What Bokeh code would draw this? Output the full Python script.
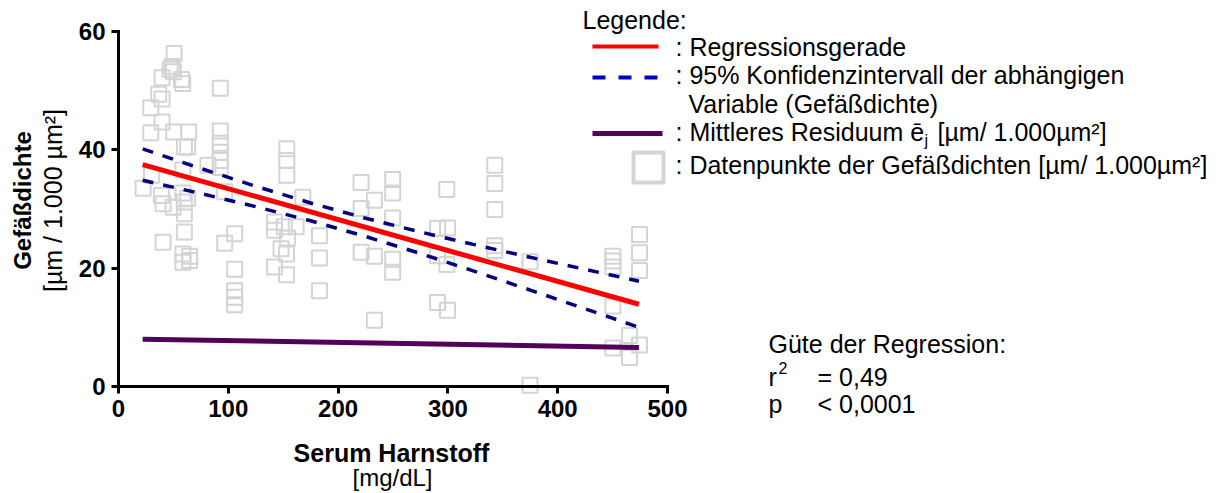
import math
from bokeh.plotting import figure
from bokeh.models import Range1d, FixedTicker
from bokeh.core.properties import value
from bokeh.embed import file_html
from bokeh.resources import INLINE

# ---------------- data ----------------
harnstoff = [50.6, 48.8, 47.0, 50.0, 39.7, 57.3, 58.5, 92.7, 36.6, 39.7, 29.4, 39.7, 29.4, 50.3,
             63.9, 92.7, 60.0, 63.0, 92.7, 92.7, 92.7, 92.7, 81.5, 58.7, 30.0, 22.4, 39.0, 58.7,
             40.6, 49.7, 60.0, 63.0, 60.0, 60.0, 40.6, 96.7, 105.8, 96.7, 58.7, 64.8, 58.7, 64.8,
             105.8, 105.8, 105.8, 105.8,
             153.3, 153.3, 153.3, 167.9, 220.9, 249.7, 249.7, 233.0, 220.9, 249.7, 142.0, 142.0,
             151.0, 161.8, 154.0, 148.0, 153.0, 183.0, 183.0, 142.0, 153.0, 183.0, 221.0, 233.0,
             249.7, 249.7, 233.0,
             342.7, 342.7, 342.7, 299.0, 290.6, 299.7, 342.7, 342.7, 290.6, 299.0, 290.6, 299.7,
             374.8, 374.8,
             474.5, 474.5, 474.5, 450.3, 450.3, 450.3, 450.3, 465.5, 474.5, 450.3, 465.5]
dichte = [56.3, 54.1, 53.6, 53.2, 52.2, 51.9, 51.2, 50.4, 49.4, 48.6, 47.1, 44.7, 42.9, 43.0,
          43.0, 43.2, 40.5, 40.5, 41.1, 39.6, 38.2, 37.0, 37.4, 36.6, 35.7, 33.5, 32.3, 32.7,
          30.9, 30.3, 31.2, 31.8, 29.2, 26.1, 24.4, 32.9, 25.8, 24.2, 22.4, 22.0, 21.0, 21.3,
          19.8, 16.2, 15.1, 13.8,
          40.2, 38.2, 35.7, 32.0, 34.5, 35.0, 32.7, 31.5, 30.1, 28.5, 27.8, 26.4,
          27.0, 27.0, 25.1, 23.3, 22.4, 25.5, 21.7, 20.2, 18.9, 16.2, 22.7, 22.0,
          21.5, 19.3, 11.2,
          37.4, 34.3, 29.9, 33.3, 26.7, 26.8, 23.8, 23.0, 22.1, 20.6, 14.2, 12.9,
          21.1, 0.2,
          25.7, 22.6, 19.6, 22.0, 21.2, 20.2, 13.6, 8.6, 7.0, 6.5, 4.9]

reg_x = [22, 474]
reg_y = [37.5, 13.9]

ci_x = [22, 75, 125, 175, 225, 275, 325, 375, 425, 474]
ci_upper = [40.15, 36.85, 33.84, 31.01, 28.44, 26.11, 23.93, 21.84, 19.79, 17.8]
ci_lower = [34.85, 32.61, 30.40, 28.01, 25.36, 22.47, 19.43, 16.30, 13.13, 10.0]

res_x = [22, 474]
res_y = [8.0, 6.6]

x_ticks = [0, 100, 200, 300, 400, 500]
y_ticks = [0, 20, 40, 60]

x_title = "Serum Harnstoff"
x_unit = "[mg/dL]"
y_title = "Gefäßdichte"
y_unit = "[µm / 1.000 µm²]"

legend_title = "Legende:"
legend_labels = [": Regressionsgerade",
                 ": 95% Konfidenzintervall der abhängigen",
                 "Variable (Gefäßdichte)",
                 ": Mittleres Residuum ē",
                 "j",
                 "[µm/ 1.000µm²]",
                 ": Datenpunkte der Gefäßdichten [µm/ 1.000µm²]"]
fit_title = "Güte der Regression:"
fit_r2 = "= 0,49"
fit_p = "< 0,0001"

# ---------------- layout (pixel geometry of the reference) ----------------
W, H = 1230, 493
OX, OY = 118, 386          # pixel position of the data origin
X_MAX, Y_MAX = 500, 60
AX_W, AX_H = 549, 355      # pixel length of the drawn axes


def dx(px):
    return (px - OX) * X_MAX / AX_W


def dy(py):
    return (OY - py) * Y_MAX / AX_H


FONT = "Liberation Sans"

p = figure(width=W, height=H, x_range=Range1d(dx(0), dx(W)), y_range=Range1d(dy(H), dy(0)),
           output_backend="svg", toolbar_location=None, title=None, min_border=0)
p.outline_line_color = None
p.grid.visible = False
p.background_fill_color = "white"
p.border_fill_color = "white"

for ax in (p.xaxis[0], p.yaxis[0]):
    ax.fixed_location = 0
    ax.axis_line_width = 3
    ax.axis_line_color = "black"
    ax.axis_line_cap = "square"
    ax.major_tick_line_width = 3
    ax.major_tick_line_color = "black"
    ax.major_tick_out = 7
    ax.major_tick_in = 0
    ax.minor_tick_line_color = None
    ax.major_label_text_font = FONT
    ax.major_label_text_font_style = "bold"
    ax.major_label_text_font_size = "24px"
    ax.major_label_text_color = "black"
    ax.major_label_standoff = 6
p.xaxis.bounds = (0, X_MAX)
p.yaxis.bounds = (0, Y_MAX)
p.xaxis.ticker = FixedTicker(ticks=x_ticks)
p.yaxis.ticker = FixedTicker(ticks=y_ticks)

# ---------------- data marks ----------------
p.scatter(harnstoff, dichte, marker="square", size=15, fill_color=None,
          line_color="#d4d4d4", line_width=2)
p.line(res_x, res_y, line_color="#52005a", line_width=5)
p.line(ci_x, ci_upper, line_color="#000080", line_width=3.5, line_dash="11 10")
p.line(ci_x, ci_lower, line_color="#000080", line_width=3.5, line_dash="11 10")
p.line(reg_x, reg_y, line_color="#ff0000", line_width=5)

# ---------------- legend ----------------
p.segment(x0=[dx(592)], y0=[dy(46)], x1=[dx(658)], y1=[dy(46)], line_color="#ff0000", line_width=4)
p.segment(x0=[dx(592)], y0=[dy(77)], x1=[dx(658)], y1=[dy(77)], line_color="#0000c0",
          line_width=4, line_dash="13 13")
p.segment(x0=[dx(592)], y0=[dy(133)], x1=[dx(662)], y1=[dy(133)], line_color="#52005a", line_width=5)
p.scatter([dx(648)], [dy(167)], marker="square", size=30, fill_color=None,
          line_color="#d4d4d4", line_width=4, line_join="round")

big = dict(text_font=value(FONT), text_font_size=value("25px"), text_color="black",
           text_baseline="middle", text_align="left")
small = dict(text_font=value(FONT), text_font_size=value("16px"), text_color="black",
             text_baseline="middle", text_align="left")
p.text(x=[dx(582)], y=[dy(19)], text=[legend_title], **big)
p.text(x=[dx(675), dx(675), dx(688), dx(675), dx(937), dx(675)],
       y=[dy(46), dy(74), dy(103), dy(131), dy(131), dy(164)],
       text=[legend_labels[0], legend_labels[1], legend_labels[2], legend_labels[3],
             legend_labels[5], legend_labels[6]], **big)
p.text(x=[dx(924)], y=[dy(140)], text=[legend_labels[4]], **small)

# ---------------- fit quality ----------------
p.text(x=[dx(768), dx(768), dx(817), dx(768), dx(817)],
       y=[dy(343), dy(376), dy(376), dy(403), dy(403)],
       text=[fit_title, "r", fit_r2, "p", fit_p], **big)
p.text(x=[dx(778)], y=[dy(367)], text=["2"], **small)

# ---------------- axis titles ----------------
p.text(x=[dx(22)], y=[dy(200)], text=[y_title], angle=math.pi / 2,
       text_align="center", text_baseline="middle", text_font=value(FONT),
       text_font_style="bold", text_font_size=value("24px"), text_color="black")
p.text(x=[dx(52)], y=[dy(200)], text=[y_unit], angle=math.pi / 2,
       text_align="center", text_baseline="middle", text_font=value(FONT),
       text_font_size=value("25px"), text_color="black")
p.text(x=[dx(391)], y=[dy(452)], text=[x_title],
       text_align="center", text_baseline="middle", text_font=value(FONT),
       text_font_style="bold", text_font_size=value("25px"), text_color="black")
p.text(x=[dx(392)], y=[dy(477)], text=[x_unit],
       text_align="center", text_baseline="middle", text_font=value(FONT),
       text_font_size=value("24px"), text_color="black")

open("out.html", "w").write(file_html(p, INLINE))
